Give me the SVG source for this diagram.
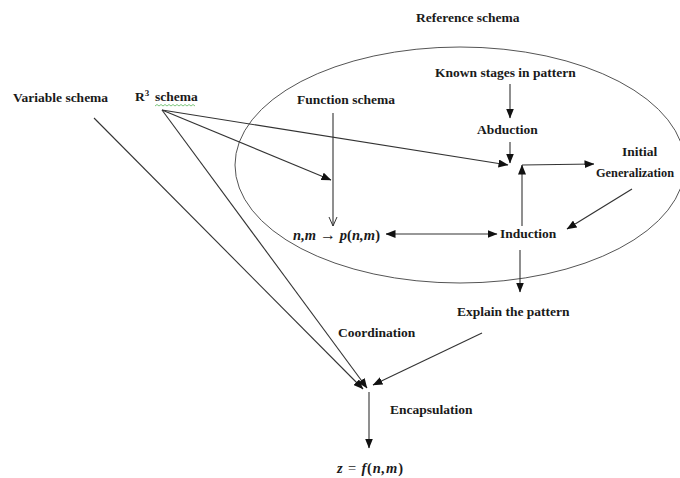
<svg xmlns="http://www.w3.org/2000/svg" width="680" height="478" viewBox="0 0 680 478">
<defs>
<marker id="ah" markerUnits="userSpaceOnUse" markerWidth="10" markerHeight="8" refX="9.5" refY="4" orient="auto">
<path d="M0,0 L10,4 L0,8 z" fill="#111"/>
</marker>
<marker id="ahOpen" markerUnits="userSpaceOnUse" markerWidth="10" markerHeight="10" refX="9" refY="5" orient="auto">
<path d="M0,1 L9,5 L0,9" fill="none" stroke="#333" stroke-width="1"/>
</marker>
<style>
.lbl{font-family:"Liberation Serif","Times New Roman",serif;font-weight:bold;font-size:13.5px;fill:#1a1a1a}
.math{font-family:"Liberation Serif","Times New Roman",serif;font-weight:bold;font-style:italic;font-size:14.5px;fill:#1a1a1a}
.up{font-style:normal}
.ln{fill:none;stroke:#333;stroke-width:1.1}
.arr{fill:none;stroke:#333;stroke-width:1.1;marker-end:url(#ah)}
</style>
</defs>
<rect width="680" height="478" fill="#fff"/>

<g id="reference-schema">
<ellipse cx="460" cy="165" rx="225" ry="118" fill="none" stroke="#555" stroke-width="1"/>
<text class="lbl" x="416" y="22">Reference schema</text>
</g>

<g id="connectors">
<path class="arr" d="M510,84 L510,118"/>
<path class="arr" d="M510,142 L510,163"/>
<path class="arr" d="M162,110 L508,165"/>
<path class="arr" d="M162,110 L331,180"/>
<path class="ln" d="M333,113 L333,226" marker-end="url(#ahOpen)"/>
<path class="arr" d="M522,226 L522,165"/>
<path class="arr" d="M522,165 L594,164"/>
<path class="arr" d="M632,189 L567,229"/>
<path class="arr" d="M442,234 L386,234"/>
<path class="arr" d="M442,234 L497,234"/>
<path class="arr" d="M520,250 L520,292"/>
<path class="arr" d="M94,118 L363,389"/>
<path class="arr" d="M162,110 L367,388"/>
<path class="arr" d="M482,333 L373,385"/>
<path class="arr" d="M369,392 L369,448"/>
</g>

<g id="variable-schema">
<text class="lbl" x="13" y="102">Variable schema</text>
</g>

<g id="r3-schema">
<text class="lbl" x="135" y="101">R<tspan font-size="9" dy="-5">3</tspan><tspan dy="5" x="155">schema</tspan></text>
<path d="M155,106 l2,-1.5 l2,1.5 l2,-1.5 l2,1.5 l2,-1.5 l2,1.5 l2,-1.5 l2,1.5 l2,-1.5 l2,1.5 l2,-1.5 l2,1.5 l2,-1.5 l2,1.5 l2,-1.5 l2,1.5 l2,-1.5 l2,1.5 l2,-1.5 l2,1.5" fill="none" stroke="#5cb85c" stroke-width="0.8"/>
</g>

<g id="known-stages">
<text class="lbl" x="435" y="77">Known stages in pattern</text>
</g>

<g id="function-schema">
<text class="lbl" x="297" y="104">Function schema</text>
</g>

<g id="abduction">
<text class="lbl" x="477" y="134">Abduction</text>
</g>

<g id="initial-generalization">
<text class="lbl" x="622" y="156">Initial</text>
<text class="lbl" x="596" y="177" textLength="78" lengthAdjust="spacingAndGlyphs">Generalization</text>
</g>

<g id="function-map">
<text class="math" x="293" y="240" textLength="87">n,m <tspan class="up" font-weight="normal" font-size="16">→</tspan> p<tspan class="up">(</tspan>n,m<tspan class="up">)</tspan></text>
</g>

<g id="induction">
<text class="lbl" x="500" y="238">Induction</text>
</g>

<g id="explain">
<text class="lbl" x="457" y="316">Explain the pattern</text>
</g>

<g id="coordination">
<text class="lbl" x="338" y="337">Coordination</text>
</g>

<g id="encapsulation">
<text class="lbl" x="390" y="414">Encapsulation</text>
</g>

<g id="result">
<text class="math" x="337" y="473" textLength="66">z <tspan class="up" font-weight="normal">=</tspan> f<tspan class="up">(</tspan>n,m<tspan class="up">)</tspan></text>
</g>
</svg>
